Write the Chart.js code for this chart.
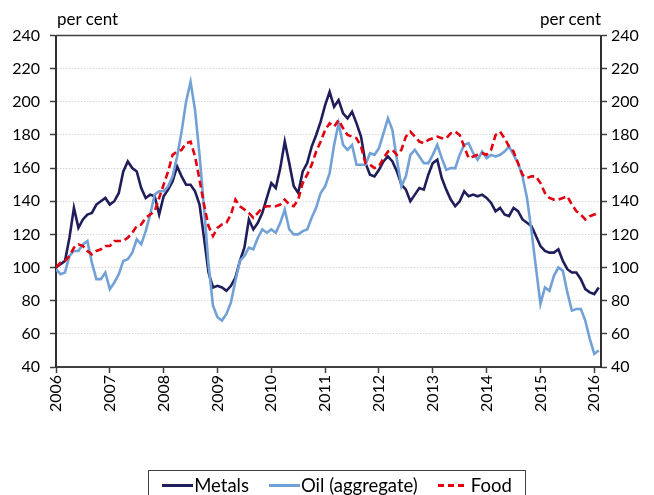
<!DOCTYPE html>
<html lang="en">
<head>
  <meta charset="UTF-8" />
  <title>Commodity prices</title>
  <script src="https://cdn.jsdelivr.net/npm/chart.js"></script>
  <style>
    body {
      margin: 0;
      background: #fff;
      font-family: Lato, 'Liberation Sans', sans-serif;
      color: #000;
    }
    .wrap {
      position: relative;
      width: 654px;
      height: 495px;
      overflow: hidden;
    }
    .unit {
      position: absolute;
      top: 8px;
      font-size: 17px;
    }
    .legend {
      position: absolute;
      left: 148px;
      top: 470px;
      width: 378px;
      height: 34px;
      border: 1px solid #404040;
      box-sizing: border-box;
      display: flex;
      justify-content: center;
      align-items: flex-start;
      padding-top: 3px;
      font-size: 18.5px;
      gap: 20px;
    }
    .legend span { display: flex; align-items: center; }
    .legend i {
      display: inline-block;
      width: 31px;
      height: 3px;
      margin-right: 1px;
    }
  </style>
</head>
<body>
  <div class="wrap">
    <canvas id="chart"></canvas>
    <div class="unit" style="left:57px">per cent</div>
    <div class="unit" style="right:53px">per cent</div>
    <div class="legend">
      <span><i style="background:#1f1d5a"></i>Metals</span>
      <span><i style="background:#72a1d7"></i>Oil (aggregate)</span>
      <span><i style="width:26px;margin-right:7px;background:repeating-linear-gradient(90deg,#e3000f 0 6px,transparent 6px 10px)"></i>Food</span>
    </div>
  </div>

  <script>
    // monthly, Jan 2006 - Feb 2016, index Jan 2006 = 100
    const startYear = 2006;
    const yearTicks = [2006, 2007, 2008, 2009, 2010, 2011, 2012, 2013, 2014, 2015, 2016];

    const metals = [
      100, 102, 104, 118, 136, 124, 129, 132, 133, 138, 140, 142,
      138, 140, 145, 158, 164, 160, 158, 148, 142, 144, 143, 132,
      143, 147, 152, 161, 155, 150, 150, 146, 138, 118, 97, 88,
      89, 88, 86, 89, 94, 104, 112, 129, 123, 127, 133, 142,
      151, 148, 160, 176, 163, 149, 145, 158, 163, 173, 180, 188,
      198, 206, 197, 201, 193, 190, 194, 187, 179, 163, 156, 155,
      159, 164, 167, 164, 158, 150, 147, 140, 144, 148, 147, 156,
      163, 165, 154, 147, 141, 137, 140, 146, 143, 144, 143, 144,
      142, 139, 134, 136, 132, 131, 136, 134, 129, 127, 125, 119,
      113, 110, 109, 109, 111, 104, 99, 97, 97, 93, 87, 85,
      84, 88
    ];
    const oil = [
      99, 96, 97, 107, 110, 110, 114, 116, 103, 93, 93, 97,
      87, 91, 96, 104, 105, 109, 117, 114, 122, 132, 144, 146,
      146, 149, 155, 167, 182, 200, 212, 195, 168, 136, 102, 77,
      70, 68, 72, 79, 92, 104, 107, 112, 111, 118, 123, 121,
      123, 121, 127, 135, 123, 120, 120, 122, 123, 130, 136, 145,
      149, 157, 174, 187, 174, 171, 174, 162, 162, 162, 169, 168,
      172, 181, 190, 183, 165, 149, 155, 168, 171, 167, 163, 163,
      168, 174, 166, 159, 160, 160, 168, 174, 175, 169, 165, 170,
      166, 168, 167, 168, 170, 173, 168, 163, 155, 142, 122, 100,
      78, 88, 86, 95, 100, 98, 85, 74, 75, 75, 68, 57,
      48, 50
    ];
    const food = [
      100, 103, 104, 107, 112, 114, 113, 110, 108, 110, 111, 113,
      113, 116, 116, 116, 118, 121, 125, 126, 130, 132, 134, 142,
      150, 158, 168, 170, 171, 175, 176, 167, 153, 138, 125, 119,
      124, 126, 127, 132, 141, 137, 135, 133, 130, 133, 136, 137,
      137, 137, 138, 141, 138, 137, 141, 151, 156, 162, 170, 176,
      183, 187, 185, 189, 184, 180, 179, 178, 173, 163, 162, 160,
      161, 166, 170, 171, 168, 171, 179, 182, 179, 176, 175, 177,
      178, 179, 178, 178, 181, 182, 180, 173, 166, 167, 168, 169,
      168, 171, 180, 182, 178, 173, 170, 163, 156, 154, 155, 155,
      151, 145, 142, 141, 141, 142, 143, 138, 134, 132, 129, 131,
      132, 133
    ];

    const toPoints = arr => arr.map((v, i) => ({ x: i, y: v }));

    const tickFont = { family: 'Lato', size: 16 };

    const topBorder = {
      id: 'topBorder',
      afterDraw(chart) {
        const { ctx, chartArea: a } = chart;
        ctx.save();
        ctx.strokeStyle = '#404040';
        ctx.lineWidth = 1.5;
        ctx.beginPath();
        ctx.moveTo(a.left, a.top);
        ctx.lineTo(a.right, a.top);
        ctx.stroke();
        ctx.restore();
      }
    };

    new Chart(document.getElementById('chart'), {
      type: 'line',
      data: {
        datasets: [
          { label: 'Metals', data: toPoints(metals), borderColor: '#1f1d5a', borderWidth: 2.6, order: 3 },
          { label: 'Oil (aggregate)', data: toPoints(oil), borderColor: '#72a1d7', borderWidth: 2.6, order: 2 },
          { label: 'Food', data: toPoints(food), borderColor: '#e3000f', borderWidth: 2.6, borderDash: [7, 4], order: 1 }
        ]
      },
      options: {
        responsive: true,
        maintainAspectRatio: false,
        animation: false,
        layout: { padding: { top: 35.5 } },
        elements: {
          point: { radius: 0 },
          line: { tension: 0, fill: false }
        },
        plugins: { legend: { display: false }, tooltip: { enabled: false } },
        scales: {
          x: {
            type: 'linear',
            min: 0,
            max: 121.5,
            afterBuildTicks: s => {
              s.ticks = yearTicks.map(y => ({ value: (y - startYear) * 12 }));
            },
            afterFit: s => { s.height = 128; },
            ticks: {
              autoSkip: false,
              minRotation: 90,
              maxRotation: 90,
              padding: 2,
              color: '#000',
              font: tickFont,
              callback: v => String(startYear + v / 12)
            },
            grid: { drawOnChartArea: false, tickLength: 6, tickColor: '#404040', tickWidth: 1.5 },
            border: { color: '#404040', width: 2 }
          },
          y: {
            position: 'left',
            min: 40,
            max: 240,
            afterFit: s => { s.width = 56; },
            ticks: { stepSize: 20, padding: 10, color: '#000', font: tickFont },
            grid: { color: '#d6d6d6', lineWidth: 1, tickLength: 6, tickColor: '#404040', tickWidth: 1.5 },
            border: { color: '#303030', width: 2, dash: [1.5, 1.5] }
          },
          y2: {
            position: 'right',
            min: 40,
            max: 240,
            afterFit: s => { s.width = 53; },
            ticks: { stepSize: 20, padding: 4, color: '#000', font: tickFont },
            grid: { drawOnChartArea: false, tickLength: 6, tickColor: '#404040', tickWidth: 1.5 },
            border: { color: '#303030', width: 2 }
          }
        }
      },
      plugins: [topBorder]
    });
  </script>
</body>
</html>
